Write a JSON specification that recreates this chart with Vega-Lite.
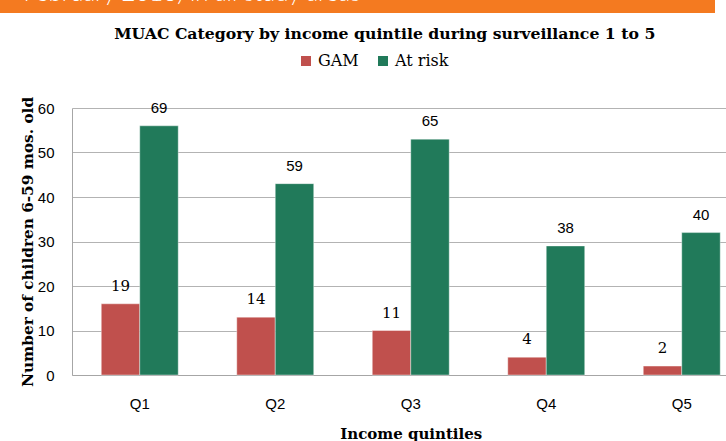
{
  "$schema": "https://vega.github.io/schema/vega-lite/v6.json",
  "padding": 0,
  "background": "white",
  "columns": 1,
  "spacing": 12,
  "config": {"view": {"stroke": null}},
  "concat": [
    {
      "width": 715,
      "height": 13,
      "view": {"fill": "#F47A20", "stroke": null},
      "data": {"values": [{"banner": "February 2016) in all study areas"}]},
      "mark": {"type": "text", "clip": true, "align": "left", "baseline": "alphabetic", "dx": -334, "dy": -6, "font": "Lato", "fontWeight": 300, "fontSize": 24, "color": "white"},
      "encoding": {"text": {"field": "banner", "type": "nominal"}}
    },
    {
      "width": 749.5,
      "height": 267,
      "data": {"values": [
        {"quintile": "Q1", "series": "GAM", "value": 16, "label": "19"},
        {"quintile": "Q1", "series": "At risk", "value": 56, "label": "69"},
        {"quintile": "Q2", "series": "GAM", "value": 13, "label": "14"},
        {"quintile": "Q2", "series": "At risk", "value": 43, "label": "59"},
        {"quintile": "Q3", "series": "GAM", "value": 10, "label": "11"},
        {"quintile": "Q3", "series": "At risk", "value": 53, "label": "65"},
        {"quintile": "Q4", "series": "GAM", "value": 4, "label": "4"},
        {"quintile": "Q4", "series": "At risk", "value": 29, "label": "38"},
        {"quintile": "Q5", "series": "GAM", "value": 2, "label": "2"},
        {"quintile": "Q5", "series": "At risk", "value": 32, "label": "40"}
      ]},
      "title": {"text": "MUAC Category by income quintile during surveillance 1 to 5", "font": "DejaVu Serif", "fontWeight": "bold", "fontSize": 15.7, "color": "black", "anchor": "middle", "frame": "group", "dx": 10, "offset": 54},
      "encoding": {
        "x": {"field": "quintile", "type": "nominal", "title": "Income quintiles",
          "scale": {"range": [72, 749.5], "paddingInner": 0.432, "paddingOuter": 0.216},
          "axis": {"labelAngle": 0, "ticks": false, "labelPadding": 21, "labelFont": "Liberation Sans", "labelFontSize": 15, "labelColor": "black", "domainColor": "#A6A6A6", "titleFont": "DejaVu Serif", "titleFontWeight": "bold", "titleFontSize": 15, "titleColor": "black", "titlePadding": 15}},
        "xOffset": {"field": "series", "type": "nominal", "sort": ["GAM", "At risk"], "scale": {"paddingInner": 0, "paddingOuter": 0}},
        "y": {"field": "value", "type": "quantitative", "scale": {"domain": [0, 60]},
          "axis": {"title": "Number of children 6-59 mos. old", "offset": -72, "values": [0, 10, 20, 30, 40, 50, 60], "ticks": false, "labelPadding": 18, "labelFont": "Liberation Sans", "labelFontSize": 15, "labelColor": "black", "domainColor": "#A6A6A6", "gridColor": "#B3B3B3", "titleFont": "DejaVu Serif", "titleFontWeight": "bold", "titleFontSize": 15.3, "titleColor": "black", "titlePadding": 2}}
      },
      "layer": [
        {
          "mark": {"type": "bar", "stroke": "white", "strokeWidth": 0.8, "strokeOpacity": 0.5},
          "encoding": {
            "color": {"field": "series", "type": "nominal", "sort": ["GAM", "At risk"],
              "scale": {"domain": ["GAM", "At risk"], "range": ["#C0504D", "#217A5A"]},
              "legend": {"title": null, "orient": "none", "legendX": 298, "legendY": 53, "direction": "horizontal", "symbolType": "square", "symbolSize": 100, "symbolStrokeWidth": 0, "labelFont": "DejaVu Serif", "labelFontSize": 16, "labelColor": "black", "labelOffset": 4, "columnPadding": 16, "padding": 0}}
          }
        },
        {
          "transform": [{"filter": "datum.series === 'GAM'"}],
          "mark": {"type": "text", "baseline": "bottom", "dy": -10, "font": "DejaVu Serif", "fontSize": 15, "color": "black"},
          "encoding": {"text": {"field": "label", "type": "nominal"}}
        },
        {
          "transform": [{"filter": "datum.series === 'At risk'"}],
          "mark": {"type": "text", "baseline": "bottom", "dy": -10, "font": "Liberation Sans", "fontSize": 15, "color": "black"},
          "encoding": {"text": {"field": "label", "type": "nominal"}}
        }
      ]
    }
  ]
}
